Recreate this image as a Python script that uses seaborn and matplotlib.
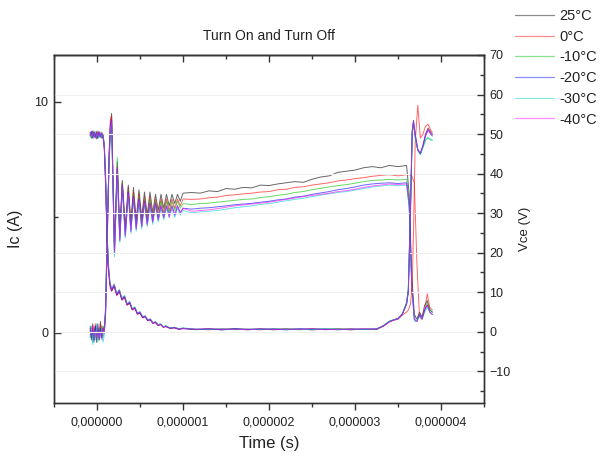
import numpy as np
import pandas as pd
import matplotlib
matplotlib.use("Agg")
import matplotlib.pyplot as plt
import seaborn as sns
from matplotlib.lines import Line2D
from matplotlib.ticker import MultipleLocator, FuncFormatter, NullFormatter

# ---------------- data ----------------
TEMPS = ["25°C", "0°C", "-10°C", "-20°C", "-30°C", "-40°C"]
COLORS = ["black", "red", "#00c000", "blue", "#00d0d0", "magenta"]

# time axis for collector current (microseconds)
T_IC_US = [-0.08, -0.065, -0.05, -0.035, -0.02, -0.005, 0.01, 0.025, 0.04, 0.055, 0.07, 0.085,
           0.10, 0.12, 0.14, 0.155,
           0.17, 0.203, 0.236, 0.265, 0.294, 0.329, 0.364, 0.394, 0.424, 0.456, 0.488, 0.52, 0.552,
           0.584, 0.616, 0.648, 0.68, 0.712, 0.744, 0.776, 0.808, 0.84, 0.872, 0.904, 0.936, 0.968, 1.0,
           1.1, 1.2, 1.3, 1.4, 1.5, 1.6, 1.7, 1.8, 1.9, 2.0, 2.1, 2.2, 2.3, 2.4, 2.5, 2.6, 2.7, 2.8,
           2.9, 3.0, 3.1, 3.2, 3.3, 3.4, 3.5, 3.6,
           3.63, 3.66, 3.69, 3.72, 3.75, 3.78, 3.81, 3.84, 3.87, 3.90]

IC_25 = [0.1, -0.3, 0.4, -0.2, 0.3, -0.4, 0.2, -0.1, 0.5, -0.2, 0.3, 0.0,
         1.0, 4.5, 7.5, 9.0,
         9.5, 3.8, 7.4, 4.4, 6.6, 4.6, 6.4, 4.8, 6.3, 4.9, 6.2, 5.0, 6.1, 5.1, 6.1, 5.2, 6.0, 5.3,
         6.0, 5.4, 6.0, 5.5, 6.0, 5.6, 6.0, 5.7, 6.05,
         6.08, 6.05, 6.15, 6.12, 6.25, 6.22, 6.3, 6.28, 6.4, 6.38, 6.45, 6.5, 6.55, 6.52, 6.65, 6.75,
         6.8, 6.95, 7.0, 7.05, 7.15, 7.2, 7.15, 7.25, 7.2, 7.25,
         6.0, 2.5, 0.8, 0.6, 0.9, 0.7, 1.2, 1.4, 1.0, 0.9]
IC_0 = [0.2, -0.2, 0.3, -0.3, 0.4, -0.2, 0.1, -0.3, 0.4, -0.1, 0.2, 0.1,
        0.8, 4.0, 7.8, 9.2,
        9.4, 3.6, 7.2, 4.2, 6.5, 4.4, 6.3, 4.6, 6.1, 4.7, 6.0, 4.8, 5.9, 4.9, 5.9, 5.0, 5.8, 5.1,
        5.8, 5.2, 5.8, 5.3, 5.8, 5.4, 5.8, 5.5, 5.8,
        5.78, 5.8, 5.85, 5.88, 5.95, 5.98, 6.02, 6.05, 6.1, 6.12, 6.2, 6.22, 6.3, 6.33, 6.4, 6.45,
        6.5, 6.58, 6.62, 6.68, 6.72, 6.78, 6.82, 6.85, 6.8, 6.85,
        6.85, 6.8, 6.5, 3.0, 0.7, 0.6, 1.0, 1.7, 1.1, 1.0]
IC_M10 = [-0.1, 0.3, -0.4, 0.2, -0.2, 0.4, -0.3, 0.2, -0.1, 0.3, -0.2, 0.1,
          1.2, 4.8, 7.2, 8.6,
          9.0, 3.5, 7.6, 4.1, 6.5, 4.3, 6.2, 4.5, 6.0, 4.6, 5.9, 4.7, 5.8, 4.8, 5.8, 4.9, 5.7, 5.0,
          5.7, 5.1, 5.7, 5.2, 5.7, 5.3, 5.7, 5.4, 5.6,
          5.56, 5.6, 5.62, 5.66, 5.7, 5.74, 5.78, 5.8, 5.86, 5.9, 5.96, 6.0, 6.08, 6.12, 6.2, 6.26,
          6.32, 6.38, 6.42, 6.48, 6.55, 6.6, 6.62, 6.65, 6.62, 6.65,
          5.8, 2.2, 0.7, 0.6, 0.8, 0.7, 1.0, 1.3, 1.0, 0.9]
IC_M20 = [0.3, -0.2, 0.1, -0.4, 0.3, -0.1, 0.4, -0.3, 0.2, -0.2, 0.1, 0.2,
          0.9, 4.2, 7.6, 8.9,
          9.2, 3.4, 7.1, 4.0, 6.4, 4.2, 6.1, 4.4, 5.9, 4.5, 5.8, 4.6, 5.7, 4.7, 5.6, 4.8, 5.6, 4.9,
          5.5, 5.0, 5.5, 5.1, 5.5, 5.1, 5.5, 5.2, 5.4,
          5.36, 5.4, 5.42, 5.46, 5.5, 5.55, 5.58, 5.61, 5.66, 5.7, 5.76, 5.8, 5.88, 5.92, 6.0, 6.06,
          6.12, 6.2, 6.25, 6.32, 6.4, 6.45, 6.48, 6.5, 6.47, 6.5,
          5.5, 2.0, 0.6, 0.5, 0.8, 0.6, 1.0, 1.2, 0.9, 0.8]
IC_M30 = [-0.2, 0.2, -0.5, 0.1, -0.3, 0.3, -0.4, 0.0, -0.2, 0.2, -0.4, -0.1,
          1.1, 4.6, 7.3, 8.7,
          9.1, 3.3, 7.0, 3.9, 6.3, 4.1, 6.0, 4.3, 5.8, 4.4, 5.7, 4.5, 5.6, 4.6, 5.5, 4.7, 5.5, 4.8,
          5.4, 4.9, 5.4, 5.0, 5.4, 5.0, 5.4, 5.1, 5.3,
          5.2, 5.24, 5.27, 5.3, 5.36, 5.42, 5.46, 5.5, 5.56, 5.6, 5.66, 5.72, 5.78, 5.83, 5.9, 5.96,
          6.02, 6.08, 6.12, 6.18, 6.25, 6.32, 6.36, 6.4, 6.37, 6.4,
          5.4, 1.9, 0.5, 0.5, 0.7, 0.6, 0.9, 1.1, 0.9, 0.8]
IC_M40 = [0.2, -0.1, 0.3, -0.3, 0.1, -0.2, 0.3, -0.2, 0.1, -0.3, 0.2, 0.0,
          1.0, 4.4, 7.4, 8.8,
          9.2, 3.5, 7.2, 4.0, 6.4, 4.2, 6.1, 4.4, 5.9, 4.5, 5.8, 4.6, 5.7, 4.7, 5.6, 4.8, 5.6, 4.9,
          5.5, 5.0, 5.5, 5.0, 5.5, 5.1, 5.5, 5.2, 5.4,
          5.27, 5.3, 5.33, 5.38, 5.44, 5.5, 5.54, 5.58, 5.62, 5.66, 5.72, 5.78, 5.84, 5.9, 5.95, 6.0,
          6.05, 6.12, 6.16, 6.22, 6.3, 6.36, 6.4, 6.45, 6.42, 6.45,
          5.6, 2.1, 0.6, 0.5, 0.8, 0.6, 1.0, 1.2, 0.9, 0.8]

# time axis for collector-emitter voltage (microseconds)
T_V_US = [-0.08, -0.065, -0.05, -0.035, -0.02, -0.005, 0.01, 0.025, 0.04, 0.055, 0.07,
          0.085, 0.10, 0.115, 0.13, 0.15,
          0.17, 0.20, 0.23, 0.26, 0.29, 0.32, 0.35, 0.38, 0.41, 0.44, 0.47, 0.50, 0.53, 0.56, 0.59,
          0.62, 0.65, 0.68, 0.71, 0.74, 0.77, 0.80, 0.85, 0.90, 0.95, 1.0,
          1.15, 1.3, 1.45, 1.6, 1.75, 1.9, 2.05, 2.2, 2.35, 2.5, 2.65, 2.8, 2.95, 3.1, 3.25,
          3.33, 3.4, 3.45, 3.5, 3.55, 3.6, 3.62,
          3.645, 3.665, 3.68, 3.70, 3.73, 3.76, 3.79, 3.82, 3.85, 3.88, 3.90]

V_25 = [50.5, 49.0, 50.8, 49.2, 50.3, 48.8, 50.6, 49.4, 50.2, 49.0, 49.8,
        47.0, 38.0, 26.0, 17.0, 12.0,
        10.5, 11.8, 9.4, 10.4, 8.2, 8.9, 6.9, 7.4, 5.7, 6.1, 4.6, 4.9, 3.7, 3.9, 2.9, 3.1, 2.2,
        2.4, 1.7, 1.9, 1.2, 1.4, 0.9, 1.1, 0.7, 0.9,
        0.6, 0.8, 0.5, 0.7, 0.6, 0.8, 0.5, 0.7, 0.6, 0.8, 0.6, 0.7, 0.5, 0.7, 0.6,
        1.5, 2.6, 3.0, 3.3, 4.5, 7.0, 10.0,
        30.0, 50.0, 53.5, 50.0, 46.0, 45.0, 47.0, 50.0, 51.5, 50.5, 50.0]
V_0 = [49.5, 50.6, 49.1, 50.4, 49.3, 50.7, 49.0, 50.2, 49.6, 50.5, 49.4,
       46.0, 37.0, 25.0, 16.0, 11.5,
       10.2, 11.5, 9.1, 10.1, 8.0, 8.6, 6.7, 7.2, 5.5, 5.9, 4.4, 4.7, 3.5, 3.8, 2.8, 3.0, 2.1,
       2.3, 1.6, 1.8, 1.2, 1.3, 0.9, 1.0, 0.7, 0.8,
       0.7, 0.5, 0.8, 0.6, 0.7, 0.5, 0.8, 0.6, 0.7, 0.5, 0.7, 0.6, 0.8, 0.6, 0.7,
       1.4, 2.5, 2.9, 3.2, 4.2, 5.0, 5.5,
       7.0, 12.0, 25.0, 48.0, 57.3, 49.0, 50.0, 52.0, 52.5, 51.0, 50.5]
V_M10 = [50.2, 48.9, 50.6, 49.3, 50.0, 49.1, 50.8, 49.5, 50.3, 48.9, 49.7,
         47.5, 39.0, 27.0, 17.5, 12.5,
         10.8, 12.0, 9.6, 10.6, 8.4, 9.1, 7.0, 7.6, 5.8, 6.2, 4.7, 5.0, 3.8, 4.0, 3.0, 3.2, 2.3,
         2.5, 1.8, 2.0, 1.3, 1.5, 1.0, 1.1, 0.8, 0.9,
         0.5, 0.7, 0.6, 0.8, 0.5, 0.7, 0.6, 0.8, 0.5, 0.7, 0.6, 0.8, 0.6, 0.7, 0.5,
         1.6, 2.7, 3.1, 3.4, 4.6, 7.5, 11.0,
         32.0, 50.5, 52.5, 49.0, 46.0, 45.0, 46.5, 48.5, 49.0, 48.5, 48.5]
V_M20 = [49.8, 50.7, 49.0, 50.5, 49.2, 50.4, 48.9, 50.6, 49.3, 50.1, 49.5,
         46.5, 38.5, 26.5, 17.0, 12.2,
         10.4, 11.6, 9.3, 10.3, 8.1, 8.8, 6.8, 7.3, 5.6, 6.0, 4.5, 4.8, 3.6, 3.9, 2.8, 3.1, 2.2,
         2.4, 1.6, 1.9, 1.2, 1.4, 0.9, 1.0, 0.6, 0.8,
         0.6, 0.7, 0.5, 0.8, 0.6, 0.6, 0.7, 0.5, 0.8, 0.6, 0.7, 0.5, 0.7, 0.6, 0.8,
         1.5, 2.6, 3.0, 3.4, 4.4, 7.2, 10.5,
         31.0, 51.0, 53.0, 49.5, 46.0, 45.0, 47.0, 49.5, 51.0, 50.0, 49.5]
V_M30 = [50.4, 49.2, 50.1, 48.9, 50.7, 49.4, 50.0, 49.1, 50.5, 49.3, 49.9,
         47.2, 39.5, 27.5, 18.0, 12.8,
         10.9, 12.1, 9.7, 10.7, 8.5, 9.2, 7.1, 7.7, 5.9, 6.3, 4.8, 5.1, 3.9, 4.1, 3.0, 3.3, 2.3,
         2.6, 1.8, 2.0, 1.3, 1.5, 1.0, 1.2, 0.8, 1.0,
         0.7, 0.6, 0.8, 0.5, 0.7, 0.6, 0.8, 0.6, 0.7, 0.5, 0.8, 0.6, 0.7, 0.6, 0.7,
         1.6, 2.6, 3.0, 3.3, 4.5, 7.3, 10.8,
         31.5, 50.0, 52.8, 49.2, 45.8, 44.8, 46.8, 48.5, 49.2, 48.6, 48.5]
V_M40 = [49.6, 50.5, 49.2, 50.8, 49.0, 50.3, 49.4, 50.6, 49.1, 50.2, 49.6,
         46.8, 38.2, 26.2, 17.2, 12.3,
         10.6, 11.9, 9.5, 10.5, 8.3, 9.0, 6.9, 7.5, 5.7, 6.1, 4.6, 5.0, 3.7, 4.0, 2.9, 3.2, 2.2,
         2.5, 1.7, 1.9, 1.2, 1.4, 0.9, 1.1, 0.7, 0.9,
         0.6, 0.8, 0.6, 0.7, 0.5, 0.8, 0.6, 0.7, 0.6, 0.8, 0.5, 0.7, 0.6, 0.8, 0.6,
         1.5, 2.5, 3.0, 3.3, 4.4, 7.1, 10.2,
         30.5, 50.5, 53.2, 49.8, 46.2, 45.2, 47.2, 49.8, 51.2, 50.2, 49.8]

IC_SERIES = [IC_25, IC_0, IC_M10, IC_M20, IC_M30, IC_M40]
V_SERIES = [V_25, V_0, V_M10, V_M20, V_M30, V_M40]

ic_rows = []
for temp, vals in zip(TEMPS, IC_SERIES):
    for t, v in zip(T_IC_US, vals):
        ic_rows.append({"t": t * 1e-6, "Ic": v, "temp": temp})
df_ic = pd.DataFrame(ic_rows)

v_rows = []
for temp, vals in zip(TEMPS, V_SERIES):
    for t, v in zip(T_V_US, vals):
        v_rows.append({"t": t * 1e-6, "Vce": v, "temp": temp})
df_v = pd.DataFrame(v_rows)

# ---------------- plot ----------------
sns.set_style("ticks")
plt.rcParams["font.family"] = ["Liberation Sans", "DejaVu Sans"]
plt.rcParams["axes.edgecolor"] = "#333333"
plt.rcParams["axes.linewidth"] = 1.0

fig = plt.figure(figsize=(6.06, 4.63), dpi=100)
ax = fig.add_axes([54 / 606, 60 / 463, 430 / 606, 348 / 463])
ax2 = ax.twinx()

palette = dict(zip(TEMPS, COLORS))
LW = 0.7
ALPHA = 0.6

sns.lineplot(data=df_ic, x="t", y="Ic", hue="temp", hue_order=TEMPS, palette=palette,
             estimator=None, sort=False, lw=LW, alpha=ALPHA, legend=False, ax=ax)
sns.lineplot(data=df_v, x="t", y="Vce", hue="temp", hue_order=TEMPS, palette=palette,
             estimator=None, sort=False, lw=LW, alpha=ALPHA, legend=False, ax=ax2)

ax.set_xlim(-0.5e-6, 4.5e-6)
ax.set_ylim(-3.03, 12.03)
ax2.set_ylim(-18, 70)

ax.xaxis.set_major_locator(MultipleLocator(1e-6))
ax.xaxis.set_minor_locator(MultipleLocator(0.5e-6))
ax.xaxis.set_major_formatter(FuncFormatter(lambda x, p: f"{x:.6f}".replace(".", ",").replace("-0,000000", "0,000000")))
ax.yaxis.set_major_locator(MultipleLocator(10))
ax.yaxis.set_minor_locator(MultipleLocator(5))
ax2.yaxis.set_major_locator(MultipleLocator(10))
ax2.yaxis.set_minor_locator(MultipleLocator(5))

ax.tick_params(axis="x", which="major", direction="out", length=5, width=1, labelsize=9, pad=5,
               colors="#333333")
ax.tick_params(axis="x", which="minor", direction="out", length=3, width=1, colors="#333333")
ax.tick_params(axis="y", which="major", direction="in", length=5, width=1, labelsize=9, pad=4,
               colors="#333333")
ax.tick_params(axis="y", which="minor", direction="in", length=3, width=1, colors="#333333")
ax2.tick_params(axis="y", which="major", direction="in", length=5, width=1, labelsize=9, pad=4,
                colors="#333333")
ax2.tick_params(axis="y", which="minor", direction="in", length=3, width=1, colors="#333333")
for lab in ax.get_xticklabels() + ax.get_yticklabels() + ax2.get_yticklabels():
    lab.set_color("#222222")

sec = ax.secondary_xaxis("top")
sec.xaxis.set_major_locator(MultipleLocator(1e-6))
sec.xaxis.set_minor_locator(MultipleLocator(0.5e-6))
sec.xaxis.set_major_formatter(NullFormatter())
sec.tick_params(which="major", direction="in", length=5, width=1, colors="#333333")
sec.tick_params(which="minor", direction="in", length=3, width=1, colors="#333333")
sec.spines["top"].set_color("#333333")

ax2.grid(axis="y", which="major", color="#f0f0f0", lw=0.8)
ax2.set_axisbelow(True)

ax.set_xlabel("Time (s)", fontsize=12, color="#222222", labelpad=5)
ax.set_ylabel("Ic (A)", fontsize=11.5, color="#222222", labelpad=8)
ax2.set_ylabel("Vce (V)", fontsize=9.5, color="#222222", labelpad=6)
ax.set_title("Turn On and Turn Off", fontsize=10, color="#222222", pad=11)

handles = [Line2D([], [], color=c, lw=0.9, alpha=0.45) for c in COLORS]
fig.legend(handles, TEMPS, loc="upper left", bbox_to_anchor=(515 / 606, 1 - 9 / 463),
           frameon=False, fontsize=10.5, handlelength=2.7, handletextpad=0.35,
           labelspacing=0.46, borderpad=0, borderaxespad=0, labelcolor="#222222")

fig.savefig("out.png", dpi=100)
